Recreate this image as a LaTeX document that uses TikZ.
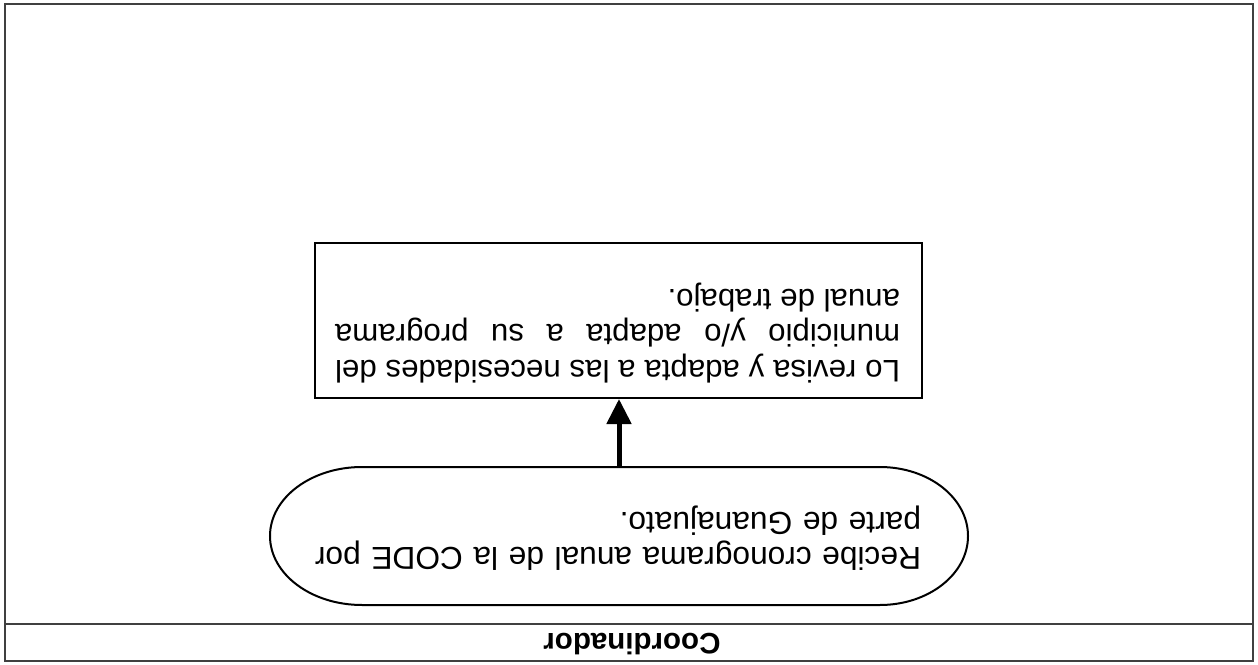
\documentclass[tikz,border=0pt]{standalone}
\usepackage{fontspec}
\setmainfont{Liberation Sans}
\usetikzlibrary{arrows.meta,calc}
\begin{document}
\begin{tikzpicture}[x=1bp,y=-1bp,
  frameline/.style={draw=black!75,line width=1.4bp},
  boxtextstyle/.style={font=\fontsize{31.2bp}{35.5bp}\selectfont,inner sep=0pt,rotate=180,anchor=base},
  elltextstyle/.style={font=\fontsize{31.7bp}{35bp}\selectfont,inner sep=0pt,rotate=180,anchor=base},
  shapeline/.style={draw=black,line width=2bp},
  flowarrow/.style={draw=black,line width=5bp,-{Triangle[length=25bp,width=24bp]}}]
\useasboundingbox (0,0) rectangle (1258,665);
% frame and lane header
\draw[frameline] (5,4) rectangle (1253,661);
\coordinate (sepL) at (5,624);
\coordinate (sepR) at (1253,624);
\draw[frameline] (sepL) -- (sepR);
\node[font=\bfseries\fontsize{29.5bp}{33bp}\selectfont,inner sep=0pt,rotate=180,anchor=base] (lane) at (632,633) {Coordinador};
% process box
\node[shapeline,minimum width=607bp,minimum height=155bp,inner sep=0pt] (box) at (618.5,320.5) {};
\node[boxtextstyle,text width=565bp,align=justify] (boxtext) at (617.5,360)
  {Lo revisa y adapta a las necesidades del\linebreak municipio y/o adapta a su programa\linebreak anual de trabajo.};
% terminal (stadium) shape
\node[minimum width=698bp,minimum height=138bp,inner sep=0pt,outer sep=0pt] (ell) at (619,536) {};
\draw[shapeline] ($(ell.north west)+(92,0)$) arc[start angle=270,end angle=90,x radius=92,y radius=69]
  -- ($(ell.south east)+(-88,0)$) arc[start angle=90,end angle=-90,x radius=88,y radius=69] -- cycle;
\node[elltextstyle,text width=660bp,align=left] (elltext) at (591,547)
  {Recibe cronograma anual de la CODE por\\parte de Guanajuato.};
% connector
\draw[flowarrow] (ell.north) -- (ell.north |- box.south);
\end{tikzpicture}
\end{document}
